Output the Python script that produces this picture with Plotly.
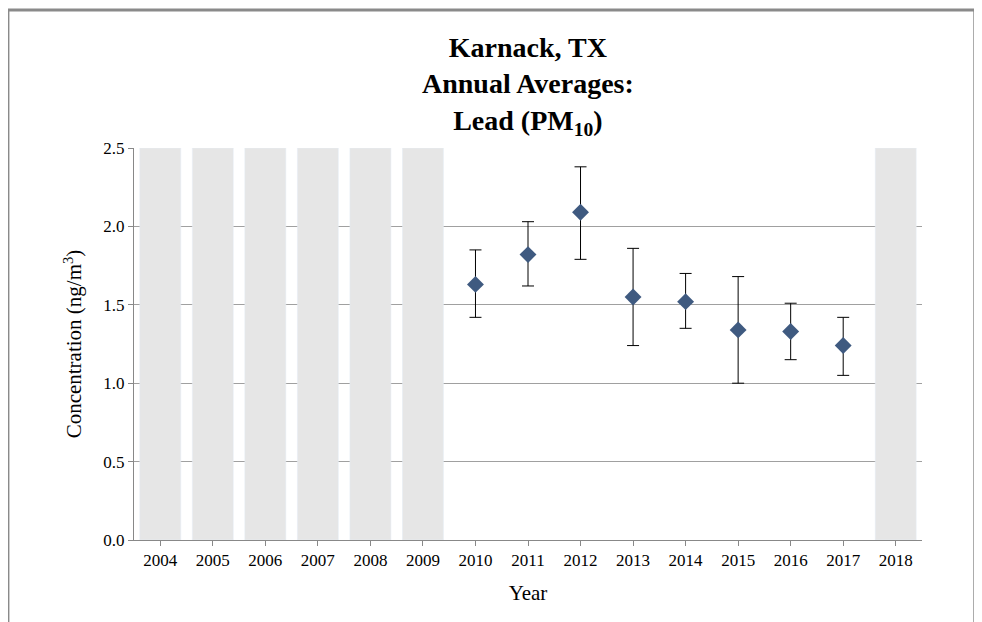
import plotly.graph_objects as go

years = [str(y) for y in range(2004, 2019)]
gap_years = ["2004", "2005", "2006", "2007", "2008", "2009", "2018"]
gap_height = [2.5] * len(gap_years)
data_years = ["2010", "2011", "2012", "2013", "2014", "2015", "2016", "2017"]
means = [1.63, 1.82, 2.09, 1.55, 1.52, 1.34, 1.33, 1.24]
upper = [1.85, 2.03, 2.38, 1.86, 1.70, 1.68, 1.51, 1.42]
lower = [1.42, 1.62, 1.79, 1.24, 1.35, 1.00, 1.15, 1.05]

fig = go.Figure()
fig.add_bar(x=gap_years, y=gap_height, marker_color="#e6e6e6", width=0.78, showlegend=False)
fig.add_scatter(
    x=data_years, y=means, mode="markers",
    marker=dict(symbol="diamond", size=13, color="#3f5a80"),
    error_y=dict(type="data", symmetric=False,
                 array=[u - m for u, m in zip(upper, means)],
                 arrayminus=[m - l for m, l in zip(means, lower)],
                 color="black", thickness=1, width=6),
    showlegend=False,
)
fig.update_layout(
    width=982, height=622, plot_bgcolor="white", paper_bgcolor="white",
    margin=dict(l=126, r=68, t=140, b=90),
    font=dict(family="Liberation Serif", color="black", size=17),
    annotations=[dict(text="<b>Karnack, TX<br>Annual Averages:<br>Lead (PM<sub>10</sub>)</b>",
                      xref="paper", yref="paper", x=0.5, y=1.0, xanchor="center", yanchor="bottom",
                      yshift=6, showarrow=False, font=dict(size=28))],
    shapes=[dict(type="rect", xref="paper", yref="paper", x0=-0.16, x1=1.067, y0=-0.3, y1=1.352,
                 line=dict(color="#8a8a8a", width=3))],
)
fig.update_xaxes(type="category", categoryorder="array", categoryarray=years,
                 title=dict(text="Year", font=dict(size=21)), showline=True,
                 linecolor="#888", ticks="outside", tickcolor="#888")
fig.update_yaxes(range=[0, 2.5], dtick=0.5, tickformat=".1f", showgrid=True, gridcolor="#a0a0a0",
                 showline=True, linecolor="#888", ticks="outside", tickcolor="#888",
                 title=dict(text="Concentration (ng/m<sup>3</sup>)", font=dict(size=21)),
                 zeroline=False)
fig.write_html("out.html")
